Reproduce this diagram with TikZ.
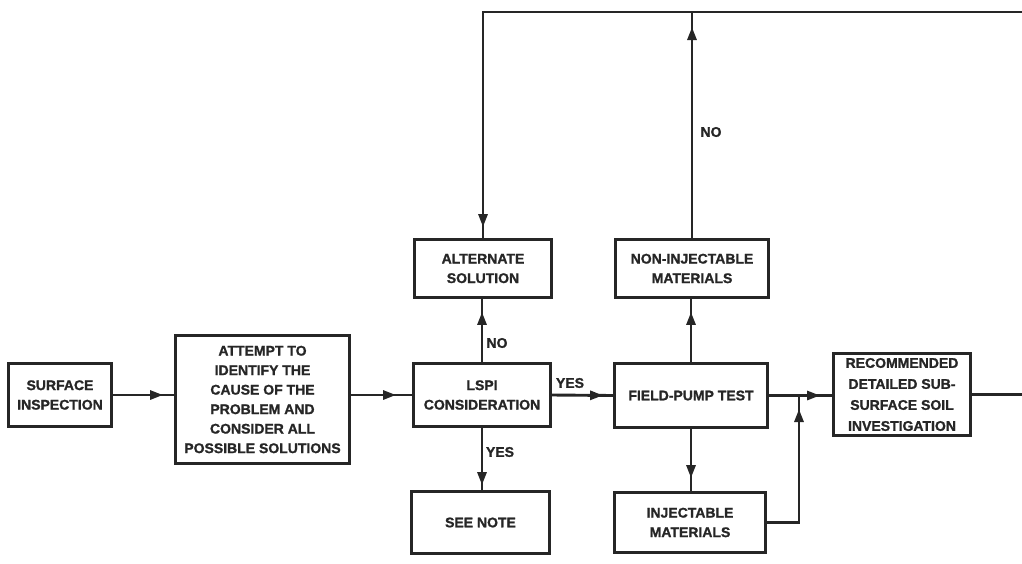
\documentclass[tikz,border=0pt]{standalone}
\usepackage{fontspec}
\setmainfont{Liberation Sans}[BoldFeatures={FakeBold=1.2}]
\usetikzlibrary{arrows.meta,decorations.markings}
\definecolor{ink}{HTML}{262626}
\begin{document}
\begin{tikzpicture}[x=1pt,y=-1pt,
  box/.style={draw=ink, line width=2.9pt, align=center, text=ink,
    font=\fontsize{14}{19.5}\selectfont\bfseries, inner sep=0pt},
  lbl/.style={text=ink, font=\fontsize{14}{16}\selectfont\bfseries, inner sep=0pt},
  conn/.style={draw=ink, line width=2.9pt},
  arr/.style={postaction={decorate}, decoration={markings,
    mark=at position -#1 with {\arrow{Triangle[length=13pt,width=9pt]}}}},
  arr/.default=11pt]
\useasboundingbox (0,0) rectangle (1022,563);
\node[box, minimum width=103pt, minimum height=63pt] (surf) at (60,395) {SURFACE\\INSPECTION};
\node[box, minimum width=174pt, minimum height=128pt] (att) at (262.5,399.5) {ATTEMPT TO\\IDENTIFY THE\\CAUSE OF THE\\PROBLEM AND\\CONSIDER ALL\\POSSIBLE SOLUTIONS};
\node[box, minimum width=137pt, minimum height=63pt] (lspi) at (482,395) {LSPI\\CONSIDERATION};
\node[box, minimum width=137pt, minimum height=58pt] (alt) at (483,268.5) {ALTERNATE\\SOLUTION};
\node[box, minimum width=138pt, minimum height=62pt] (note) at (480.5,522.5) {SEE NOTE};
\node[box, minimum width=153pt, minimum height=58pt] (ni) at (692,268.5) {NON-INJECTABLE\\MATERIALS};
\node[box, minimum width=153pt, minimum height=64pt] (fp) at (691,395.5) {FIELD-PUMP TEST};
\node[box, minimum width=151pt, minimum height=60pt] (inj) at (690,522.5) {INJECTABLE\\MATERIALS};
\node[box, minimum width=137pt, minimum height=82pt, font=\fontsize{14}{21}\selectfont\bfseries] (rec) at (902,394.5) {RECOMMENDED\\DETAILED SUB-\\SURFACE SOIL\\INVESTIGATION};
\coordinate (j) at (799,396);
\coordinate (t) at (693,12);
\coordinate (tr) at (1022,12);
\coordinate (re) at (1022,396);
\draw[conn, arr] (surf.east) -- (surf.east -| att.west);
\draw[conn, arr=16pt] (lspi.west -| att.east) -- (lspi.west);
\draw[conn, arr=10pt] (lspi.east) -- (fp.west);
\draw[conn, arr=12pt] (fp.east) -- (fp.east -| rec.west);
\draw[conn, arr=13pt] (inj.east) -| (j);
\draw[conn, arr=13pt] (fp.south) -- (fp.south |- inj.north);
\draw[conn, arr=13pt] (fp.north) -- (fp.north |- ni.south);
\draw[conn, arr=15pt] (ni.north) -- (ni.north |- t);
\draw[conn, arr=11pt] (tr) -| (alt.north);
\draw[conn] (rec.east) -- (rec.east -| re);
\draw[conn, arr=13pt] (lspi.north) -- (lspi.north |- alt.south);
\draw[conn, arr=5pt] (lspi.south) -- (lspi.south |- note.north);
\node[lbl] (no1) at (497,343) {NO};
\node[lbl] (yes1) at (570,383) {YES};
\node[lbl] (yes2) at (500,452) {YES};
\node[lbl] (no2) at (711,132) {NO};
\end{tikzpicture}
\end{document}
